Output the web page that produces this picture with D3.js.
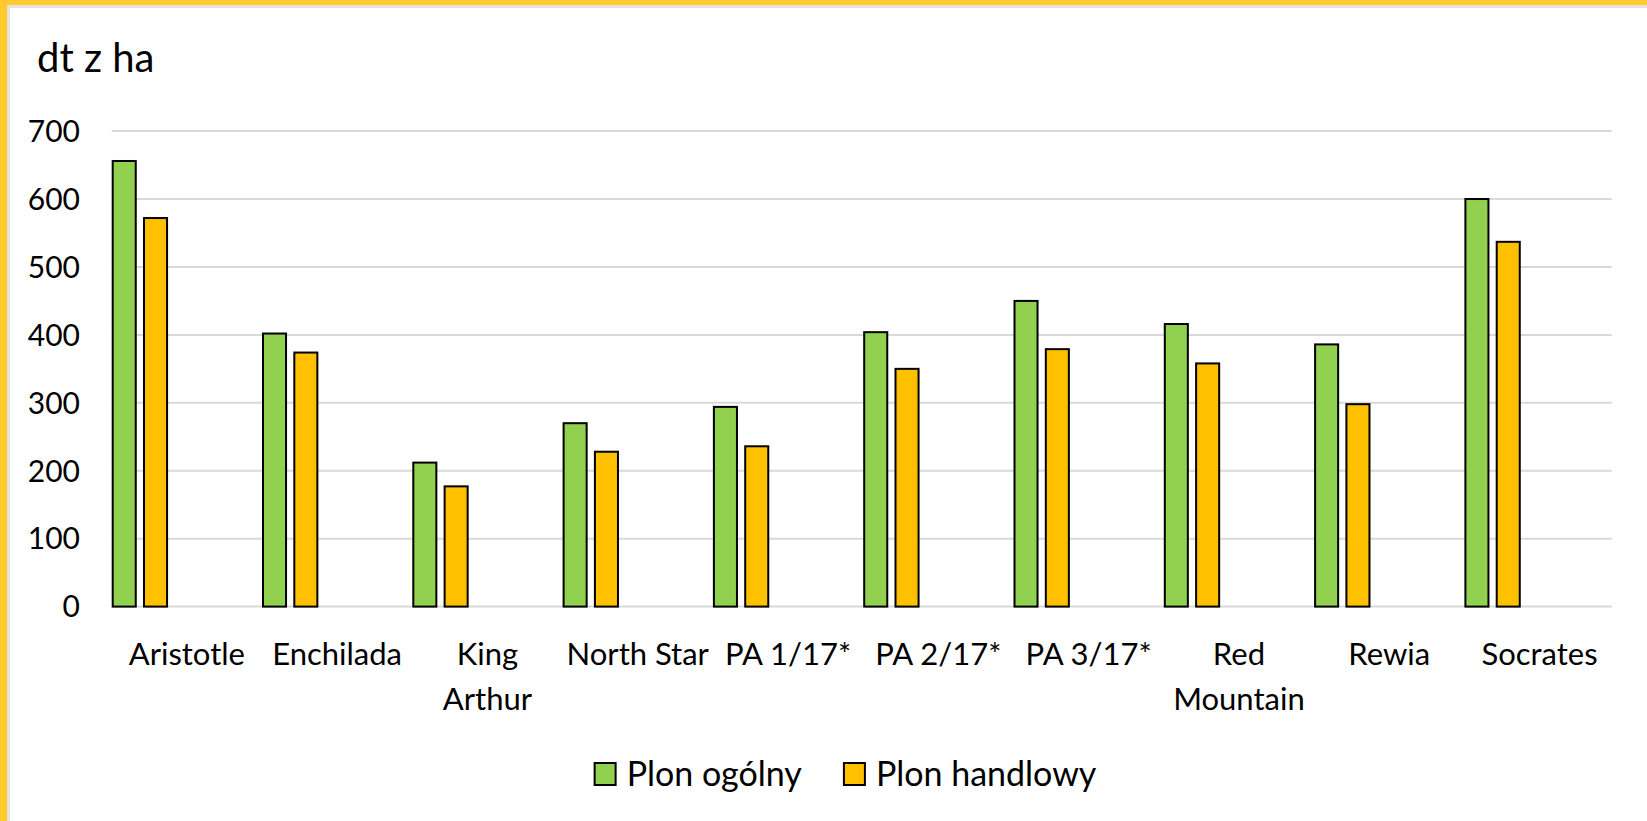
<!DOCTYPE html>
<html>
<head>
<meta charset="utf-8">
<style>
  html, body { margin: 0; padding: 0; background: #fff; }
  svg { display: block; font-family: Lato, "Open Sans", sans-serif; }
</style>
</head>
<body>
<svg width="1647" height="821"></svg>
<script src="https://cdn.jsdelivr.net/npm/d3@7/dist/d3.min.js"></script>
<script>
// values (dt z ha)
var categories = ["Aristotle", "Enchilada", "King Arthur", "North Star", "PA 1/17*",
                  "PA 2/17*", "PA 3/17*", "Red Mountain", "Rewia", "Socrates"];
var series = ["Plon ogólny", "Plon handlowy"];
var plonOgolny   = [656, 402, 212, 270, 294, 404, 450, 416, 386, 600];
var plonHandlowy = [572, 374, 177, 228, 236, 350, 379, 358, 298, 537];
var yTicks = [0, 100, 200, 300, 400, 500, 600, 700];
var colors = ["#92D050", "#FFC000"];

var width = 1647, height = 821;
var svg = d3.select("svg");

// frame: yellow edge on top and left, with a thin grey line inside
svg.append("rect").attr("x", 0).attr("y", 0).attr("width", width).attr("height", 5).attr("fill", "#FFCA2C");
svg.append("rect").attr("x", 0).attr("y", 0).attr("width", 7).attr("height", height).attr("fill", "#FFCA2C");
svg.append("rect").attr("x", 7).attr("y", 5).attr("width", width).attr("height", 3).attr("fill", "#e2e2e2");
svg.append("rect").attr("x", 7).attr("y", 5).attr("width", 3).attr("height", height).attr("fill", "#e2e2e2");

var x0 = d3.scaleBand().domain(categories).range([111.7, 1614.7]).padding(0);
var x1 = d3.scaleBand().domain(series).range([0, x0.bandwidth() * 0.375]).paddingInner(0.2);
var y = d3.scaleLinear().domain([0, 700]).range([606.6, 131.1]);

// gridlines
svg.append("g").selectAll("line")
  .data(yTicks)
  .enter().append("line")
  .attr("x1", x0.range()[0]).attr("x2", x0.range()[1] - 3)
  .attr("y1", function(d){ return y(d); })
  .attr("y2", function(d){ return y(d); })
  .attr("stroke", "#d9d9d9")
  .attr("stroke-width", 2);

// y tick labels
svg.append("g").selectAll("text")
  .data(yTicks)
  .enter().append("text")
  .attr("x", 80)
  .attr("y", function(d){ return y(d); })
  .attr("dy", "0.36em")
  .attr("text-anchor", "end")
  .style("font-size", "30px")
  .style("fill", "#000")
  .text(function(d){ return d; });

// bars
var rows = categories.map(function(c, i){
  return { cat: c, vals: [plonOgolny[i], plonHandlowy[i]] };
});
var groups = svg.append("g").selectAll("g")
  .data(rows)
  .enter().append("g")
  .attr("transform", function(d){ return "translate(" + x0(d.cat) + ",0)"; });

groups.selectAll("rect")
  .data(function(d){ return d.vals.map(function(v, j){ return { s: series[j], v: v, j: j }; }); })
  .enter().append("rect")
  .attr("x", function(d){ return x1(d.s) + 1; })
  .attr("width", x1.bandwidth() - 2)
  .attr("y", function(d){ return y(d.v); })
  .attr("height", function(d){ return y(0) - y(d.v); })
  .attr("fill", function(d){ return colors[d.j]; })
  .attr("stroke", "#000")
  .attr("stroke-width", 2);

// category labels, wrapped when wider than the band
var catLabels = svg.append("g").selectAll("text")
  .data(categories)
  .enter().append("text")
  .attr("text-anchor", "middle")
  .attr("x", function(d){ return x0(d) + x0.bandwidth() / 2; })
  .attr("y", 665)
  .style("font-size", "31px")
  .style("fill", "#000")
  .text(function(d){ return d; });

catLabels.each(function(d){
  var t = d3.select(this);
  if (this.getComputedTextLength() <= x0.bandwidth()) return;
  var words = d.split(" ");
  var cx = t.attr("x");
  t.text(null);
  words.forEach(function(w, k){
    t.append("tspan").attr("x", cx).attr("dy", k === 0 ? 0 : 45).text(w);
  });
});

// axis title
svg.append("text")
  .attr("x", 37).attr("y", 72)
  .style("font-size", "40px")
  .style("fill", "#000")
  .text("dt z ha");

// legend
var legend = svg.append("g");
var lx = 0;
series.forEach(function(s, j){
  var item = legend.append("g").attr("transform", "translate(" + lx + ",0)");
  item.append("rect")
    .attr("x", 1).attr("y", 763)
    .attr("width", 21).attr("height", 22)
    .attr("fill", colors[j]).attr("stroke", "#000").attr("stroke-width", 2);
  var t = item.append("text")
    .attr("x", 33).attr("y", 786)
    .style("font-size", "34px")
    .style("fill", "#000")
    .text(s);
  lx += 33 + t.node().getComputedTextLength() + 41;
});
var legW = lx - 41;
legend.attr("transform", "translate(" + (845 - legW / 2) + ",0)");
</script>
</body>
</html>
